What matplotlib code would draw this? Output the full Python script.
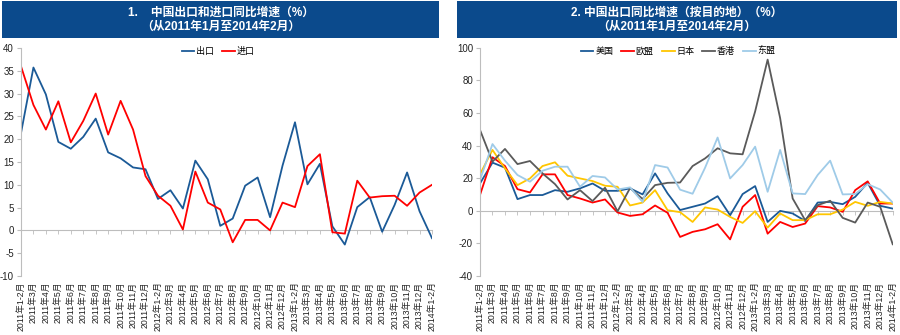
import matplotlib
matplotlib.use('Agg')
import matplotlib.pyplot as plt
from matplotlib.patches import Rectangle

plt.rcParams['font.family'] = ['Liberation Sans', 'Noto Sans CJK SC']
plt.rcParams['axes.unicode_minus'] = False

# 横轴类别
categories = [
    '2011年1-2月', '2011年3月', '2011年4月', '2011年5月', '2011年6月', '2011年7月',
    '2011年8月', '2011年9月', '2011年10月', '2011年11月', '2011年12月',
    '2012年1-2月', '2012年3月', '2012年4月', '2012年5月', '2012年6月', '2012年7月',
    '2012年8月', '2012年9月', '2012年10月', '2012年11月', '2012年12月',
    '2013年1-2月', '2013年3月', '2013年4月', '2013年5月', '2013年6月', '2013年7月',
    '2013年8月', '2013年9月', '2013年10月', '2013年11月', '2013年12月',
    '2014年1-2月',
]

# 图1：出口、进口同比
exports = [21.3, 35.7, 29.8, 19.4, 17.9, 20.5, 24.5, 17.1, 15.8, 13.8, 13.4,
           6.9, 8.8, 4.8, 15.3, 11.2, 1.0, 2.6, 9.8, 11.6, 2.9, 14.2,
           23.7, 10.1, 14.6, 0.9, -3.1, 5.1, 7.3, -0.3, 5.6, 12.7, 4.2, -1.7]
imports = [36.0, 27.5, 22.1, 28.3, 19.3, 24.0, 30.0, 21.0, 28.4, 22.1, 11.9,
           7.6, 5.4, 0.2, 12.9, 6.1, 4.6, -2.6, 2.3, 2.3, 0.0, 6.1,
           5.1, 14.1, 16.7, -0.4, -0.7, 10.9, 7.2, 7.5, 7.6, 5.4, 8.3, 10.0]

# 图2：按目的地出口同比
usa = [16.8, 29.6, 26.5, 7.2, 9.7, 9.7, 12.7, 11.7, 13.8, 16.8, 12.3,
       12.3, 13.8, 10.1, 23.0, 10.7, 0.5, 2.5, 4.5, 9.0, -2.7, 10.3,
       15.2, -6.8, 0.0, -1.6, -6.2, 5.1, 5.5, 4.1, 8.6, 17.2, 3.1, 1.4]
eu = [9.7, 32.9, 27.5, 13.3, 11.3, 22.4, 22.4, 9.7, 7.6, 5.1, 7.0,
      -1.0, -3.1, -2.1, 3.3, -1.2, -16.0, -12.9, -11.3, -8.2, -17.5, 2.5,
      9.7, -14.0, -6.8, -9.9, -7.8, 2.9, 2.1, -0.6, 12.7, 18.1, 4.5, 4.5]
japan = [22.4, 37.4, 26.1, 15.8, 19.9, 27.5, 29.8, 21.6, 19.9, 18.3, 15.4,
         14.8, 3.3, 5.1, 12.7, 0.4, -0.8, -6.8, 2.1, 0.8, -3.7, -7.4,
         -0.2, -10.3, -1.6, -5.7, -5.7, -2.1, -2.1, 0.8, 5.5, 3.1, 5.5, 4.5]
hongkong = [49.7, 30.2, 38.0, 28.7, 30.6, 23.0, 16.4, 7.0, 12.7, 6.0, 14.2,
            -0.3, 14.0, 7.3, 15.8, 17.2, 17.4, 27.5, 32.2, 38.4, 35.3, 34.7,
            61.0, 92.8, 56.9, 7.6, -5.7, 3.5, 6.2, -4.3, -7.2, 5.1, 2.5, -20.5]
asean = [18.9, 41.0, 30.8, 22.0, 17.9, 24.6, 27.1, 27.1, 14.8, 21.4, 20.5,
         13.1, 14.4, 5.5, 28.1, 26.6, 13.0, 10.5, 26.5, 45.0, 19.9, 28.1,
         39.4, 11.7, 37.4, 10.7, 10.3, 22.0, 30.8, 10.1, 10.3, 16.4, 13.1, 5.1]

left_ticks = list(range(-10, 41, 5))
right_ticks = list(range(-40, 101, 20))

titles = [('1.    中国出口和进口同比增速（%）', '（从2011年1月至2014年2月）'),
          ('2. 中国出口同比增速（按目的地）（%）', '（从2011年1月至2014年2月）')]

BLUE = '#1b5a97'
RED = '#ff0000'
YELLOW = '#ffc600'
GRAY = '#5a5a5a'
LIGHTBLUE = '#9fcbe8'
AXIS_GRAY = '#bdbdbd'
TEXT = '#222222'

fig = plt.figure(figsize=(9, 3.35), dpi=100)
ax1 = fig.add_axes([0.0233, 0.176, 0.4567, 0.681])
ax2 = fig.add_axes([0.5333, 0.176, 0.4586, 0.681])

x = list(range(len(categories)))

ax1.plot(x, exports, color=BLUE, lw=1.3, label='出口')
ax1.plot(x, imports, color=RED, lw=1.3, label='进口')

ax2.plot(x, usa, color=BLUE, lw=1.3, label='美国')
ax2.plot(x, eu, color=RED, lw=1.3, label='欧盟')
ax2.plot(x, japan, color=YELLOW, lw=1.3, label='日本')
ax2.plot(x, hongkong, color=GRAY, lw=1.3, label='香港')
ax2.plot(x, asean, color=LIGHTBLUE, lw=1.3, label='东盟')

for ax, ticks in [(ax1, left_ticks), (ax2, right_ticks)]:
    ax.set_xlim(0, len(categories) - 1)
    ax.set_ylim(ticks[0], ticks[-1])
    ax.set_yticks(ticks)
    ax.set_xticks(x)
    ax.set_xticklabels(categories, rotation=90, fontsize=6.3, color=TEXT)
    ax.tick_params(axis='x', length=0, pad=4)
    ax.tick_params(axis='y', length=3, color=AXIS_GRAY, labelsize=7, labelcolor=TEXT, pad=2)
    for s in ['top', 'right', 'bottom']:
        ax.spines[s].set_visible(False)
    ax.spines['left'].set_color(AXIS_GRAY)
    ax.spines['left'].set_linewidth(0.8)
    # 零线及刻度
    zero_pos = (0 - ticks[0]) / (ticks[-1] - ticks[0])
    sec = ax.secondary_xaxis(zero_pos)
    sec.set_xticks(x)
    sec.set_xticklabels([])
    sec.tick_params(length=3, color=AXIS_GRAY, width=0.6)
    sec.spines['bottom'].set_color(AXIS_GRAY)
    sec.spines['bottom'].set_linewidth(0.8)
    ax.set_zorder(1)

ax1.legend(loc='upper center', bbox_to_anchor=(0.48, 1.04), ncol=2, frameon=False,
           fontsize=6.5, handlelength=1.4, columnspacing=0.9, handletextpad=0.2)
ax2.legend(loc='upper center', bbox_to_anchor=(0.48, 1.04), ncol=5, frameon=False,
           fontsize=6.5, handlelength=1.4, columnspacing=0.9, handletextpad=0.2)

# 标题栏
for x0, w, (l1, l2) in [(2, 437, titles[0]), (457, 440, titles[1])]:
    fig.add_artist(Rectangle((x0 / 900, 1 - 38 / 335), w / 900, 37 / 335,
                             transform=fig.transFigure, facecolor='#0b4a8c',
                             edgecolor='none'))
    cx = (x0 + w / 2) / 900
    fig.text(cx, 1 - 13 / 335, l1, color='white', fontsize=8.5, fontweight='bold',
             ha='center', va='center')
    fig.text(cx, 1 - 27 / 335, l2, color='white', fontsize=8.5, fontweight='bold',
             ha='center', va='center')

fig.savefig('out.png', dpi=100)
